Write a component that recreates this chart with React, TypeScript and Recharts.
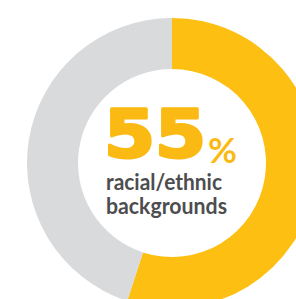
import React from 'react';
import { PieChart, Pie, Cell, Label } from 'recharts';

const categories = ['Racial/ethnic backgrounds', 'Other'];
const values = [55, 45];
const headline = '55';
const captionLines = ['racial/ethnic', 'backgrounds'];

const COLORS = ['#FCBF12', '#D9DADB'];

const data = categories.map((name, i) => ({ name, value: values[i] }));

const CenterText = () => (
  <g>
    <text
      x={0}
      y={0}
      transform="translate(104 157) scale(1.13 1)"
      fill="#FBBA13"
      stroke="#FBBA13"
      strokeWidth={3}
      strokeLinejoin="round"
      fontFamily="'DejaVu Sans', sans-serif"
      fontWeight={700}
      fontSize={65}
    >
      {headline}
    </text>
    <text
      x={208}
      y={163}
      fill="#FBBA13"
      fontFamily="Lato, sans-serif"
      fontWeight={700}
      fontSize={35}
      textLength={29}
      lengthAdjust="spacingAndGlyphs"
    >
      %
    </text>
    <text
      x={106}
      y={190}
      fill="#4D4D4F"
      fontFamily="Lato, sans-serif"
      fontWeight={700}
      fontSize={22}
      textLength={116}
      lengthAdjust="spacingAndGlyphs"
    >
      {captionLines[0]}
    </text>
    <text
      x={106}
      y={214}
      fill="#4D4D4F"
      fontFamily="Lato, sans-serif"
      fontWeight={700}
      fontSize={22}
      textLength={121}
      lengthAdjust="spacingAndGlyphs"
    >
      {captionLines[1]}
    </text>
  </g>
);

export default function App() {
  return (
    <div style={{ position: 'absolute', left: 0, top: 0, width: 296, height: 299, background: '#fff' }}>
      <PieChart width={296} height={299}>
        <Pie
          data={data}
          dataKey="value"
          cx={167}
          cy={158}
          innerRadius={94}
          outerRadius={145}
          startAngle={90}
          endAngle={-270}
          stroke="none"
          isAnimationActive={false}
        >
          {data.map((entry, i) => (
            <Cell key={entry.name} fill={COLORS[i]} />
          ))}
          <Label position="center" content={() => <CenterText />} />
        </Pie>
      </PieChart>
    </div>
  );
}
